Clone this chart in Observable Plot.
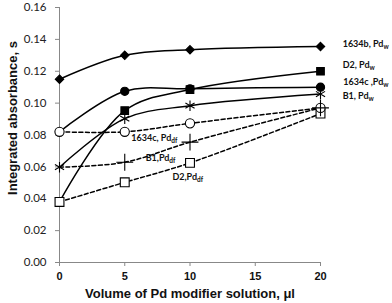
<!DOCTYPE html>
<html><head><meta charset="utf-8">
<script src="https://cdn.jsdelivr.net/npm/d3@7"></script>
<script src="https://cdn.jsdelivr.net/npm/@observablehq/plot@0.6"></script>
<style>body{margin:0;background:#fff} svg{display:block}</style>
</head><body><div id="chart"></div>
<script>
// Data
const volumes = [0, 5, 10, 20];
const a1634b_w  = [0.115, 0.130, 0.1335, 0.1355];
const a1634c_w  = [0.082, 0.1074, 0.109, 0.110];
const aD2_w     = [0.038, 0.0953, 0.1085, 0.120];
const aB1_w     = [0.0598, 0.0903, 0.0984, 0.1057];
const aD2_df    = [0.038, 0.0503, 0.0625, 0.0934];
const a1634c_df = [0.082, 0.082, 0.0873, 0.097];
const aB1_df    = [0.0598, 0.0629, 0.0755, 0.097];
const yTicks = [0, 0.02, 0.04, 0.06, 0.08, 0.10, 0.12, 0.14, 0.16];
const xTicks = [0, 5, 10, 15, 20];
const labelTexts = ["1634b, Pd|w", "D2, Pd|w", "1634c ,Pd|w", "B1, Pd|w", "1634c, Pd|df", "B1,Pd|df", "D2,Pd|df"];
const labelX = [21.7, 21.7, 21.75, 21.7, 5.5, 6.6, 8.65];
const labelY = [0.1373, 0.1241, 0.1131, 0.1043, 0.0778, 0.0652, 0.0533];
const xTitle = "Volume of Pd modifier solution, μl";
const yTitle = "Integrated absorbance, s";

// Styles (separate from data)
const series = [
  {values: a1634b_w,  dashed: false, symbol: "diamond2", fill: "black", r: 3.8, markFrom: 0},
  {values: a1634c_w,  dashed: false, symbol: "circle",   fill: "black", r: 4.1, markFrom: 1},
  {values: aD2_w,     dashed: false, symbol: "square",   fill: "black", r: 4.3, markFrom: 1},
  {values: aB1_w,     dashed: false, symbol: "asterisk", fill: "none",  r: 5,   markFrom: 0},
  {values: aD2_df,    dashed: true,  symbol: "square",   fill: "white", r: 5,   markFrom: 0},
  {values: a1634c_df, dashed: true,  symbol: "circle",   fill: "white", r: 4.6, markFrom: 0},
  {values: aB1_df,    dashed: true,  symbol: "plus",     fill: "none",  r: 5.5, markFrom: 1}
];
series.forEach(s => s.rows = volumes.map((x, i) => ({x, y: s.values[i]})));
const labels = labelTexts.map((t, i) => ({t, x: labelX[i], y: labelY[i]}));

const marks = [
  Plot.ruleY([0], {stroke: "#888", strokeWidth: 1}),
  Plot.ruleX([0], {y1: 0, y2: 0.16, stroke: "#888", strokeWidth: 1}),
  Plot.axisY({ticks: yTicks, tickFormat: d3.format(".2f"), tickSize: 4, tickPadding: 9, stroke: "#888", fill: "#222", fontSize: 11.5, fontFamily: "Lato", label: null}),
  Plot.axisX({ticks: xTicks, tickSize: 4, tickPadding: 6, stroke: "#888", fill: "#111", fontSize: 11, fontWeight: "bold", fontFamily: "Liberation Sans", label: null}),
  ...series.map(s => Plot.line(s.rows, {x: "x", y: "y", curve: "catmull-rom", stroke: "black", strokeWidth: 1.5, strokeDasharray: s.dashed ? "4,2.5" : null})),
  ...series.map(s => Plot.dot(s.rows.slice(s.markFrom), {x: "x", y: "y", symbol: s.symbol, r: s.r, fill: s.fill, stroke: "black", strokeWidth: 1.1})),
  Plot.text(labels, {x: "x", y: "y", text: "t", textAnchor: "start", fontFamily: "Lato", fontWeight: "bold", fontSize: 9, fill: "#111"}),
  Plot.text([yTitle], {frameAnchor: "left", rotate: -90, dx: -47, dy: -17, textAnchor: "middle", lineAnchor: "middle", fontFamily: "Liberation Sans", fontWeight: "bold", fontSize: 13, fill: "#111"}),
  Plot.text([xTitle], {frameAnchor: "bottom", dy: 31, textAnchor: "middle", lineAnchor: "middle", fontFamily: "Liberation Sans", fontWeight: "bold", fontSize: 13, fill: "#111"})
];

const chart = Plot.plot({
  width: 392, height: 303,
  marginLeft: 59, marginRight: 72, marginTop: 7, marginBottom: 41,
  x: {domain: [0, 20]},
  y: {domain: [0, 0.16]},
  style: {background: "white", fontFamily: "Lato"},
  marks
});

// subscripts
d3.select(chart).selectAll("text").each(function() {
  const txt = this.textContent;
  if (txt.includes("|") && this.children.length === 0) {
    const [main, sub] = txt.split("|");
    const el = d3.select(this);
    el.text(main);
    el.append("tspan").attr("dy", "0.3em").attr("font-size", "6.5px").attr("fill", "#111").text(sub);
  }
});
document.getElementById("chart").appendChild(chart);
</script>
</body></html>
